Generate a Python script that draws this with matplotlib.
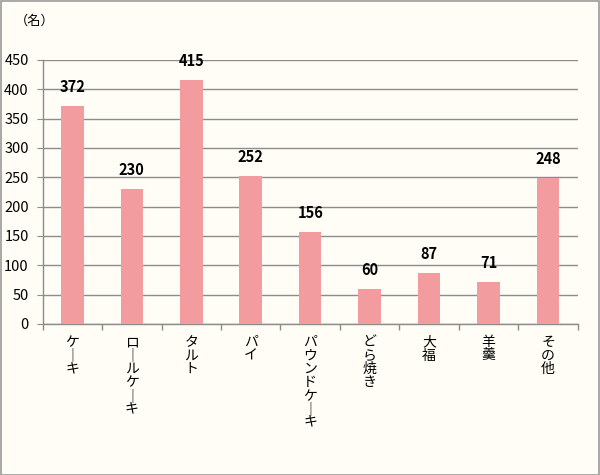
import matplotlib
matplotlib.use("Agg")
import matplotlib.pyplot as plt
from matplotlib.patches import Rectangle

plt.rcParams['font.family'] = ['Noto Sans CJK JP', 'DejaVu Sans']

categories = ["ケーキ", "ロールケーキ", "タルト", "パイ", "パウンドケーキ", "どら焼き", "大福", "羊羹", "その他"]
values = [372, 230, 415, 252, 156, 60, 87, 71, 248]
yticks = [0, 50, 100, 150, 200, 250, 300, 350, 400, 450]
unit_label = "（名）"

bg = "#FFFDF6"
bar_color = "#F29CA0"
grid_color = "#8C8C8C"

fig = plt.figure(figsize=(6, 4.75), dpi=100, facecolor=bg)
fig.patches.append(Rectangle((0.001, 0.001), 0.997, 0.997, transform=fig.transFigure,
                             fill=False, edgecolor="#9A9A9A", linewidth=1.2))
ax = fig.add_axes([0.071, 0.318, 0.892, 0.556])
ax.set_facecolor(bg)

x = list(range(len(categories)))
ax.bar(x, values, width=0.38, color=bar_color, zorder=3)
for xi, v in zip(x, values):
    ax.annotate(str(v), (xi, v), xytext=(0, 8), textcoords="offset points",
                ha="center", va="bottom", fontsize=10.5, fontweight="bold", color="black")

ax.set_xlim(-0.5, len(categories) - 0.5)
ax.set_ylim(0, 450)
ax.set_yticks(yticks)
ax.set_yticklabels([str(t) for t in yticks], fontsize=10.5)
ax.yaxis.grid(True, color=grid_color, linewidth=1.0, zorder=0)
ax.tick_params(axis='y', length=4, color=grid_color, pad=6)

def vertical(s):
    return "\n".join("｜" if c == "ー" else c for c in s)

ax.set_xticks(x)
ax.set_xticklabels([vertical(c) for c in categories], fontsize=10, linespacing=0.95, va="top")
ax.tick_params(axis='x', which='major', length=0, pad=8)
ax.set_xticks([i - 0.5 for i in range(len(categories) + 1)], minor=True)
ax.tick_params(axis='x', which='minor', length=4, color=grid_color, width=1.0)

for s in ["top", "right"]:
    ax.spines[s].set_visible(False)
for s in ["left", "bottom"]:
    ax.spines[s].set_color(grid_color)
    ax.spines[s].set_linewidth(1.0)

fig.text(0.025, 0.955, unit_label, fontsize=9.5, ha="left", va="center")

fig.savefig("out.png", dpi=100, facecolor=bg)
